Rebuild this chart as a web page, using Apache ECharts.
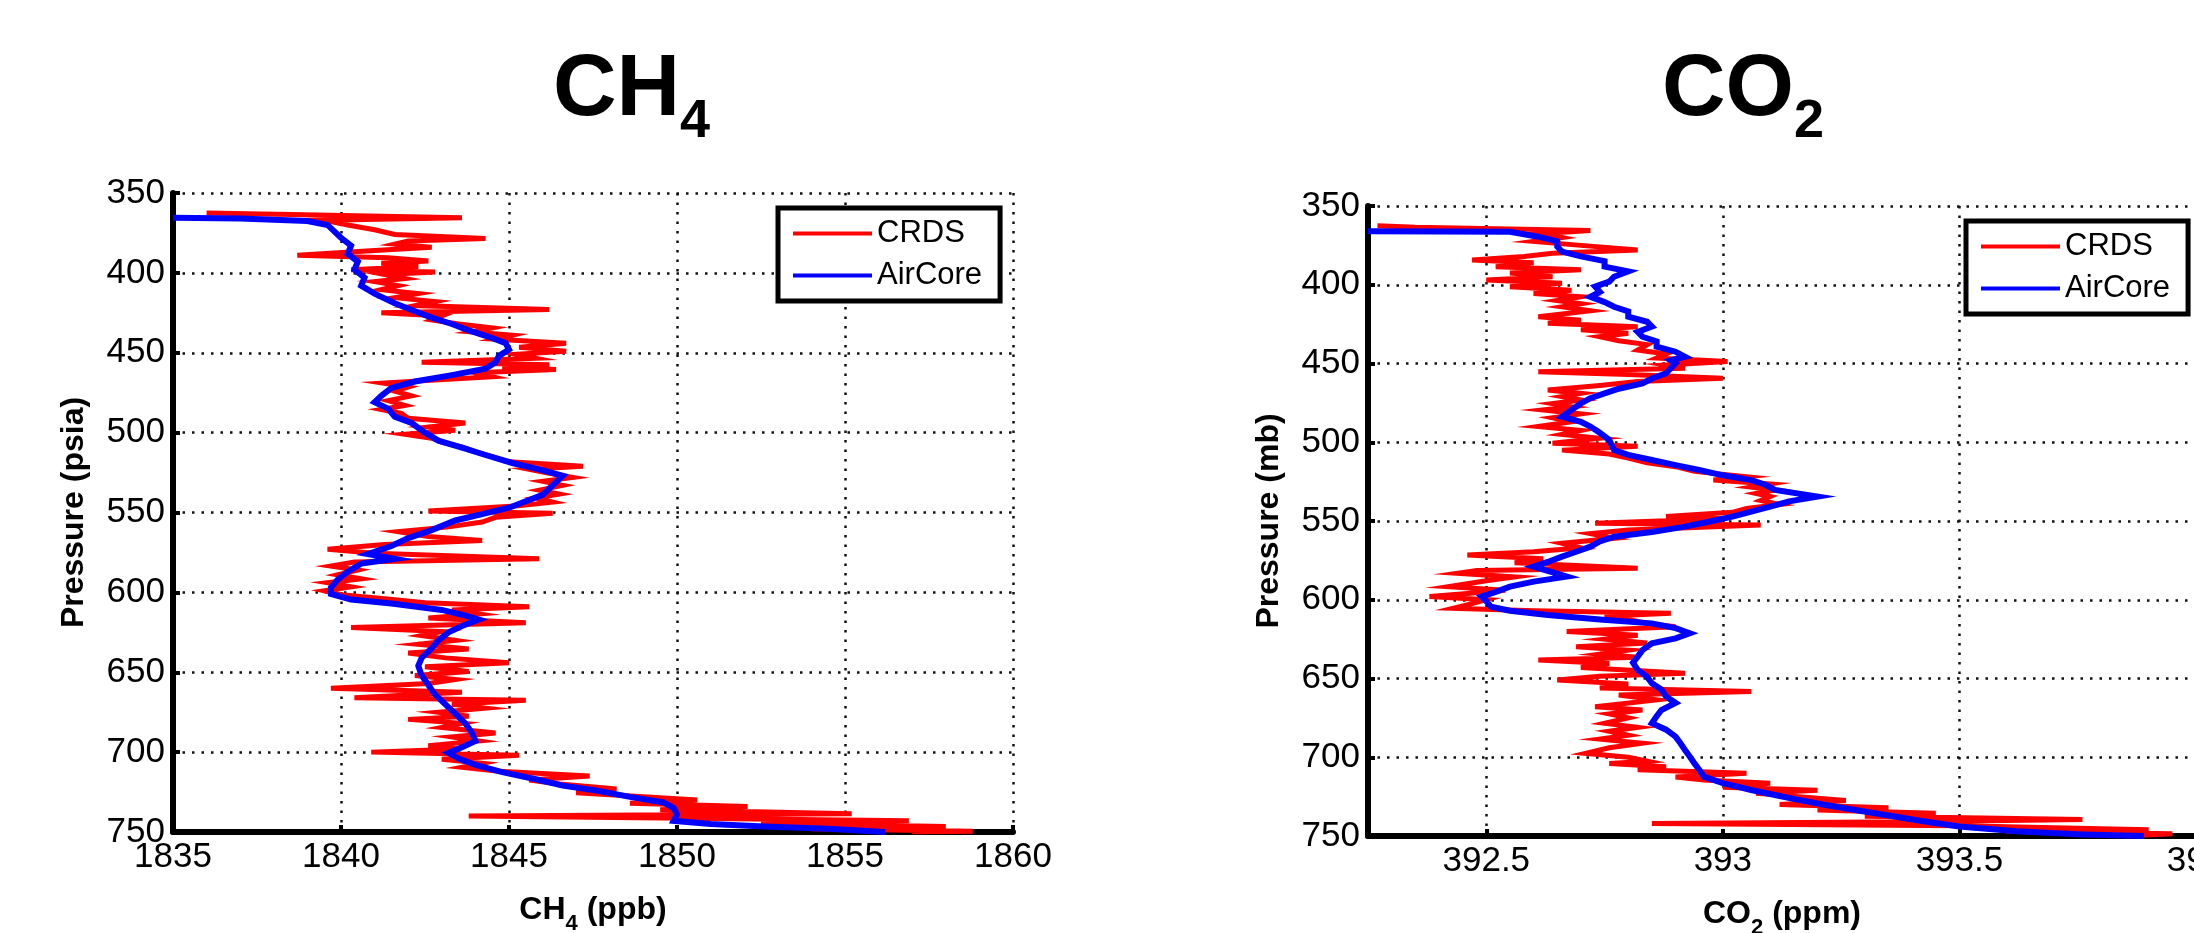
<!DOCTYPE html>
<html>
<head>
<meta charset="utf-8">
<title>CH4 / CO2 profiles</title>
<script src="https://cdn.jsdelivr.net/npm/echarts@6/dist/echarts.min.js"></script>
<style>
html, body { margin: 0; padding: 0; background: #fff; }
#main { width: 2194px; height: 933px; }
</style>
</head>
<body>
<div id="main"></div>
<script>
// axis ticks
var pressureTicks = [350, 400, 450, 500, 550, 600, 650, 700, 750];
var ch4Ticks = [1835, 1840, 1845, 1850, 1855, 1860];
var co2Ticks = [392.5, 393, 393.5, 394];
var seriesNames = ['CRDS', 'AirCore'];

// CH4 profiles, [ppb, psia]
var ch4Crds = [
  [1836.0,362.5],[1838.5,363.5],[1843.6,365.5],[1839.5,367],[1840.2,370],[1841.0,373],[1841.6,376],[1844.3,378.5],
  [1842.0,380],[1841.6,382],[1842.7,384],[1841.0,386],[1838.7,389],[1841.4,390.5],[1842.6,392.5],[1841.2,394],
  [1842.3,396],[1840.3,398],[1842.8,399.5],[1841.3,401],[1841.9,403.5],[1841.0,405.5],[1841.7,408],[1841.2,410.5],
  [1842.3,413],[1841.6,415.5],[1842.8,418],[1842.2,420.5],[1846.2,423],[1841.2,425],[1843.0,427],[1842.7,429.5],
  [1843.5,432],[1844.5,434.5],[1843.9,437],[1845.1,439],[1844.6,441.5],[1846.7,444],[1845.3,446.5],[1846.7,449],
  [1845.2,451],[1845.8,453.5],[1842.4,456],[1846.2,457.5],[1844.8,459],[1846.4,460.5],[1844.0,462.5],[1844.5,465],
  [1842.8,467],[1841.25,469],[1842.0,471.5],[1841.6,474],[1842.1,477],[1841.4,480],[1841.9,483],[1841.2,485.5],
  [1841.8,488],[1842.0,491],[1843.7,494],[1842.6,496.5],[1843.4,498.5],[1841.9,501],[1842.7,503.5],[1843.0,506],
  [1843.6,509],[1844.0,512],[1844.5,515],[1844.9,518],[1847.2,521],[1845.6,523],[1846.2,525.5],[1846.9,528],
  [1846.0,530.5],[1846.6,533],[1845.9,536],[1846.5,538.5],[1845.8,541],[1846.3,543.5],[1845.2,546],[1842.6,549],
  [1846.3,550.5],[1844.6,553],[1844.2,556],[1843.2,559],[1841.7,562],[1842.6,565],[1844.2,567.5],[1841.3,570],
  [1839.6,573],[1841.0,575.5],[1845.9,579],[1840.4,581],[1839.7,583.5],[1840.5,586],[1839.9,589],[1840.6,591.5],
  [1839.6,594],[1840.3,596.5],[1839.5,599],[1840.0,601.5],[1841.3,604],[1842.5,606.5],[1845.6,609],[1843.3,611],
  [1844.1,613.5],[1842.6,616],[1845.5,619],[1840.3,622],[1843.0,624.5],[1842.4,627],[1843.4,630],[1842.3,632.5],
  [1843.8,635.5],[1842.0,638],[1843.1,641],[1845.0,644],[1842.5,646.5],[1843.8,649.5],[1842.2,652],[1843.4,654.5],
  [1842.6,657],[1839.7,660],[1843.6,662.5],[1840.4,666],[1845.5,667.5],[1843.3,670],[1844.3,672.5],[1842.9,675],
  [1843.8,677.5],[1842.0,679.5],[1843.6,682],[1843.0,684.5],[1844.6,688],[1843.3,690.5],[1844.1,693],[1842.6,696],
  [1843.5,698],[1840.9,700],[1845.3,702],[1843.0,704.5],[1844.2,707],[1843.6,709.5],[1844.7,712],[1847.4,715],
  [1845.6,717.5],[1846.5,720],[1848.2,723],[1847.0,725.5],[1849.0,728],[1850.6,730],[1848.6,732],[1852.1,734],
  [1849.5,736],[1855.2,738.5],[1843.8,740],[1851.0,741.5],[1856.9,743],[1852.5,744.5],[1858.0,746.5],[1854.0,748],
  [1858.8,749.5],[1857.0,750]
];
var ch4AirCore = [
  [1835.0,365.5],[1837.0,366],[1839.0,367.5],[1839.6,370],[1839.8,374],[1840.0,378],[1840.3,383],[1840.2,388],
  [1840.5,393],[1840.4,398],[1840.7,403],[1840.6,408],[1841.0,413],[1841.6,419],[1842.2,424],[1842.7,428],
  [1843.3,432],[1843.8,436],[1844.4,440],[1844.9,444],[1845.0,448],[1844.7,452],[1844.6,456],[1844.3,460],
  [1843.3,464],[1842.2,468],[1841.5,472],[1841.2,477],[1841.0,481],[1841.4,485],[1841.6,490],[1842.1,494],
  [1842.5,500],[1842.9,505],[1843.7,510],[1844.3,514],[1845.1,519],[1845.9,523],[1846.6,527],[1846.4,531],
  [1846.2,535],[1846.0,539],[1845.5,543],[1845.0,547],[1844.2,551],[1843.4,555],[1842.7,561],[1842.0,566],
  [1841.5,571],[1840.8,576],[1841.6,579],[1840.6,582],[1840.2,587],[1839.9,592],[1839.7,597],[1839.7,601],
  [1840.3,604.5],[1841.5,607],[1843.0,611],[1843.6,614],[1844.1,617],[1843.6,621],[1843.2,625],[1842.9,630],
  [1842.7,635],[1842.4,641],[1842.3,646],[1842.4,652],[1842.6,658],[1842.8,664],[1843.1,670],[1843.4,676],
  [1843.7,682],[1843.9,688],[1844.0,693],[1843.6,697],[1843.2,700.5],[1843.5,704],[1844.0,708],[1844.8,712.5],
  [1845.8,717],[1846.6,721],[1847.6,724],[1848.6,728],[1849.6,731.5],[1849.9,735],[1850.0,739],[1849.9,743],
  [1851.0,745],[1852.6,746.5],[1854.5,748],[1856.2,750]
];

// CO2 profiles, [ppm, mb]
var co2Crds = [
  [392.27,362.5],[392.35,363.5],[392.72,365.5],[392.62,367.5],[392.66,370],[392.6,372.5],[392.7,375],[392.82,378],
  [392.64,380],[392.58,382],[392.47,384.3],[392.6,386],[392.52,388.5],[392.7,390.5],[392.55,392.5],[392.64,394.9],
  [392.5,397],[392.66,399],[392.55,401.2],[392.68,403.5],[392.6,405.5],[392.7,407.6],[392.65,410],[392.7,412],
  [392.66,414],[392.72,416.5],[392.61,420.3],[392.7,422.5],[392.63,424.5],[392.82,426.6],[392.7,428.5],[392.8,430.8],
  [392.74,433],[392.78,435.5],[392.84,438],[392.82,441.4],[392.88,444],[392.86,446.5],[393.01,448.8],[392.88,451],
  [392.92,453],[392.61,455.2],[392.8,457],[393.0,459.4],[392.82,461.5],[392.74,464],[392.63,466.8],[392.7,469],
  [392.66,471],[392.7,473.2],[392.64,475.5],[392.68,477.5],[392.62,479.5],[392.7,482],[392.64,484.5],[392.68,487],
  [392.61,490],[392.7,492.5],[392.66,495],[392.74,497.5],[392.64,500.7],[392.82,502.5],[392.66,505],[392.76,507.5],
  [392.8,510],[392.84,513],[392.9,515.5],[392.94,518.5],[393.05,521.9],[392.98,524],[393.1,526.5],[393.06,528.5],
  [393.11,530.3],[393.07,532.5],[393.1,534.5],[393.08,537],[393.12,539.5],[393.05,542],[393.02,544.5],[392.88,547.2],
  [393.0,548.5],[392.73,551.5],[393.08,552.5],[392.8,555.7],[392.72,558],[392.77,561],[392.66,564.2],[392.7,567],
  [392.6,569.5],[392.46,571.6],[392.62,574],[392.56,576.5],[392.82,580],[392.48,581.5],[392.44,583.2],[392.56,585.5],
  [392.5,588],[392.42,591.7],[392.54,594],[392.46,596],[392.38,598],[392.5,600],[392.47,602.5],[392.43,605.4],
  [392.6,607],[392.89,608.6],[392.75,610.5],[392.8,612.5],[392.84,615],[392.9,617.1],[392.67,620.2],[392.82,622.5],
  [392.75,625],[392.84,627.5],[392.69,629.8],[392.8,632],[392.74,634.5],[392.82,636.5],[392.61,638.2],[392.76,640.5],
  [392.7,643],[392.92,646.7],[392.74,648.5],[392.65,651],[392.8,653.5],[392.74,656],[393.06,658.3],[392.78,660.5],
  [392.86,663.6],[392.73,667.9],[392.83,670],[392.76,672.5],[392.8,675],[392.75,678.4],[392.82,681],[392.76,683.5],
  [392.8,686],[392.74,688.5],[392.83,691.1],[392.76,694],[392.71,697.5],[392.8,700],[392.84,702.5],[392.76,704],
  [392.88,706],[392.82,708],[393.05,710.2],[392.9,712.5],[392.96,714.5],[393.1,716.5],[393.0,719],[393.2,721],
  [393.07,722.9],[393.16,725],[393.26,727.5],[393.12,730],[393.35,732],[393.2,733.5],[393.45,735.5],[393.3,737.5],
  [393.76,739.5],[393.4,741],[392.85,742],[393.5,743.5],[393.9,746],[393.6,747],[393.95,748.5],[393.85,750]
];
var co2AirCore = [
  [392.25,366],[392.55,366.3],[392.61,369.5],[392.65,372.5],[392.65,375.8],[392.66,379],[392.7,382],[392.75,385],
  [392.75,388.5],[392.8,391.5],[392.77,394.9],[392.76,398],[392.73,401.2],[392.74,404.5],[392.72,407.6],[392.75,411],
  [392.77,414],[392.8,417],[392.8,420.3],[392.84,423.5],[392.85,426.6],[392.82,430],[392.83,433],[392.86,436],
  [392.86,439.3],[392.9,442.5],[392.92,445.7],[392.89,448],[392.9,449.9],[392.89,453],[392.88,456.2],[392.85,459.5],
  [392.83,462.6],[392.78,466],[392.75,469],[392.72,472],[392.7,475.3],[392.68,479.5],[392.66,483.8],[392.7,487],
  [392.72,490],[392.74,494],[392.76,498.6],[392.77,505],[392.8,508],[392.85,511.3],[392.9,514.5],[392.95,517.6],
  [393.0,521],[393.06,524],[393.09,527],[393.11,530.3],[393.2,534.5],[393.14,537.5],[393.1,540.9],[393.06,544],
  [393.02,547.2],[392.97,550.5],[392.92,553.6],[392.85,557],[392.77,560],[392.74,563],[392.72,566.3],[392.69,569.5],
  [392.66,572.6],[392.63,576],[392.6,579],[392.67,585.3],[392.6,588.5],[392.55,591.7],[392.52,595],[392.49,598],
  [392.5,601],[392.51,604.4],[392.55,607],[392.63,609.7],[392.74,612.5],[392.85,615],[392.9,618],[392.93,621.3],
  [392.9,624.5],[392.85,627.7],[392.83,632],[392.82,636.1],[392.81,640],[392.82,644.6],[392.84,649],[392.85,653],
  [392.87,657],[392.88,661.5],[392.9,665.5],[392.87,670],[392.86,674],[392.85,678.4],[392.88,682.5],[392.9,686.9],
  [392.91,691],[392.92,695.4],[392.93,699.5],[392.94,703.9],[392.95,708],[392.96,712.3],[393.0,716.5],[393.06,720.8],
  [393.11,724],[393.16,727.1],[393.22,730.5],[393.28,733.5],[393.35,737],[393.42,740.5],[393.5,744],[393.62,747],
  [393.76,749],[393.89,750]
];

var FONT = 'Liberation Sans, Arial, Helvetica, sans-serif';
var chart = echarts.init(document.getElementById('main'));

// rich text styles for names with subscripts; subH = box height of the subscript (smaller = lower)
function subRich(big, small, subH) {
  return {
    a: { fontFamily: FONT, fontWeight: 'bold', fontSize: big, color: '#000', lineHeight: Math.round(big * 1.15) },
    b: { fontFamily: FONT, fontWeight: 'bold', fontSize: small, color: '#000', height: subH, verticalAlign: 'bottom' }
  };
}

function plain(v) { return String(v); }

function xAxisOf(idx, min, max, extra) {
  var ax = {
    type: 'value', gridIndex: idx, min: min, max: max, position: 'bottom',
    axisLine: { onZero: false, lineStyle: { color: '#000', width: 6 } },
    axisTick: { inside: true, length: 7, lineStyle: { color: '#000', width: 4 } },
    axisLabel: { margin: 8, fontFamily: FONT, fontSize: 35, color: '#000', formatter: plain },
    splitLine: { show: true, lineStyle: { color: '#111', width: 2.5, type: [2.5, 7] } },
    nameLocation: 'middle', nameGap: 60
  };
  for (var k in extra) ax[k] = extra[k];
  return ax;
}

function yAxisOf(idx, name) {
  return {
    type: 'value', gridIndex: idx, inverse: true, min: pressureTicks[0], max: pressureTicks[pressureTicks.length - 1], interval: 50,
    axisLine: { onZero: false, lineStyle: { color: '#000', width: 6 } },
    axisTick: { inside: true, length: 7, lineStyle: { color: '#000', width: 4 } },
    axisLabel: { margin: 8, fontFamily: FONT, fontSize: 35, color: '#000', formatter: plain },
    splitLine: { show: true, lineStyle: { color: '#111', width: 2.5, type: [2.5, 7] } },
    name: name, nameLocation: 'middle', nameGap: 83,
    nameTextStyle: { fontFamily: FONT, fontWeight: 'bold', fontSize: 32, color: '#000' }
  };
}

function legendAt(left, top) {
  return {
    data: seriesNames, orient: 'vertical', left: left, top: top,
    padding: [10, 18, 10, 15], itemWidth: 79, itemHeight: 4, itemGap: 11, icon: 'rect',
    borderColor: '#000', borderWidth: 5, backgroundColor: '#fff', selectedMode: false,
    textStyle: { fontFamily: FONT, fontSize: 31, color: '#000', lineHeight: 30 }
  };
}

function lineOf(idx, name, color, width, data) {
  return {
    type: 'line', name: name, xAxisIndex: idx, yAxisIndex: idx, data: data,
    symbol: 'none', color: color, lineStyle: { color: color, width: width, join: 'miter' }
  };
}

var option = {
  backgroundColor: '#fff',
  animation: false,
  title: [
    { text: '{a|CH}{b|4}', left: 553, top: 40, padding: 0, textStyle: { rich: subRich(88, 54, 37) } },
    { text: '{a|CO}{b|2}', left: 1662, top: 40, padding: 0, textStyle: { rich: subRich(88, 54, 37) } }
  ],
  grid: [
    { left: 173, top: 193, width: 840, height: 639, outerBoundsMode: 'none' },
    { left: 1368, top: 206, width: 828, height: 630, outerBoundsMode: 'none' }
  ],
  xAxis: [
    xAxisOf(0, ch4Ticks[0], ch4Ticks[ch4Ticks.length - 1], {
      interval: 5,
      name: '{a|CH}{b|4}{a| (ppb)}',
      nameTextStyle: { rich: subRich(32, 22, 10) }
    }),
    xAxisOf(1, 392.25, co2Ticks[co2Ticks.length - 1], {
      name: '{a|CO}{b|2}{a| (ppm)}',
      nameTextStyle: { rich: subRich(32, 22, 10) },
      axisLabel: { margin: 8, fontFamily: FONT, fontSize: 35, color: '#000', customValues: co2Ticks, formatter: plain },
      axisTick: { inside: true, length: 7, lineStyle: { color: '#000', width: 4 }, customValues: co2Ticks }
    })
  ],
  yAxis: [
    yAxisOf(0, 'Pressure (psia)'),
    yAxisOf(1, 'Pressure (mb)')
  ],
  legend: [legendAt(778, 208), legendAt(1966, 221)],
  series: [
    lineOf(0, 'CRDS', '#ff0000', 5, ch4Crds),
    lineOf(0, 'AirCore', '#0000ff', 6, ch4AirCore),
    lineOf(1, 'CRDS', '#ff0000', 5, co2Crds),
    lineOf(1, 'AirCore', '#0000ff', 6, co2AirCore)
  ]
};
chart.setOption(option);
</script>
</body>
</html>
